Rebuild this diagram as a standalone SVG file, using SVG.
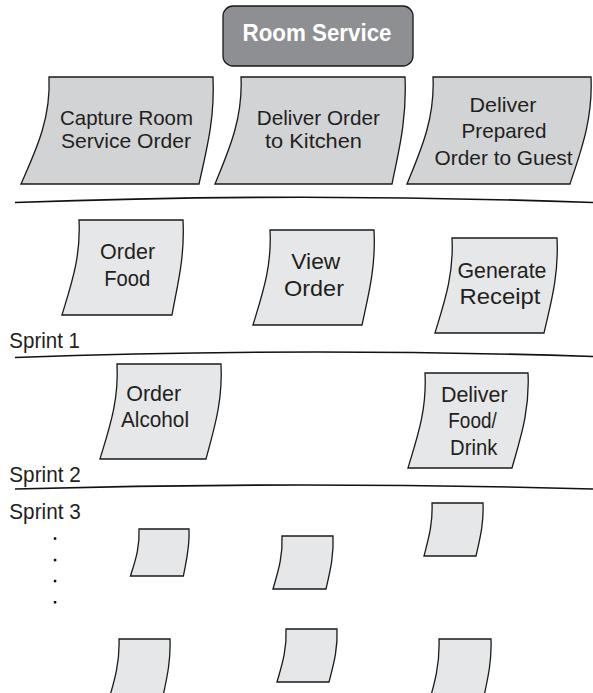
<svg xmlns="http://www.w3.org/2000/svg" width="593" height="693" viewBox="0 0 593 693">
<style>
.top{fill:#d2d3d5;stroke:#1a1a1a;stroke-width:1.3}
.card{fill:#e6e7e8;stroke:#1a1a1a;stroke-width:1.3}
.t{font-family:"Liberation Sans",Arial,sans-serif;font-size:22px;fill:#231f20;text-anchor:middle}
.tt{font-family:"Liberation Sans",Arial,sans-serif;font-size:21px;fill:#231f20;text-anchor:middle}
.s{font-family:"Liberation Sans",Arial,sans-serif;font-size:22px;fill:#231f20}
.sep{fill:none;stroke:#111;stroke-width:1.6}
</style>
<rect width="593" height="693" fill="#fff"/>
<g id="room-service">
<rect x="223" y="6" width="190" height="60" rx="10" fill="#8e8f92" stroke="#1a1a1a" stroke-width="1.3"/>
<text x="317" y="41" font-family="Liberation Sans,Arial,sans-serif" font-size="24" font-weight="bold" fill="#fff" text-anchor="middle" textLength="149" lengthAdjust="spacingAndGlyphs">Room Service</text>
</g>
<g id="capture">
<path class="top" d="M49,77 L213,77 C215,119.8 206,151.9 199,184 L21,184 C35,151.9 51,119.8 49,77 Z"/>
<text class="tt" x="126.5" y="125" textLength="133" lengthAdjust="spacingAndGlyphs">Capture Room</text>
<text class="tt" x="126" y="147.5" textLength="130" lengthAdjust="spacingAndGlyphs">Service Order</text>
</g>
<g id="deliver-kitchen">
<path class="top" d="M241,77 L405,77 C407,119.8 398.5,151.9 392,184 L215,184 C228,151.9 243,119.8 241,77 Z"/>
<text class="tt" x="318.3" y="125" textLength="123" lengthAdjust="spacingAndGlyphs">Deliver Order</text>
<text class="tt" x="313.5" y="147.5" textLength="97" lengthAdjust="spacingAndGlyphs">to Kitchen</text>
</g>
<g id="deliver-guest">
<path class="top" d="M433,77 L591,77 C593,119.8 580.5,151.9 570,184 L407,184 C420,151.9 435,119.8 433,77 Z"/>
<text class="tt" x="503" y="111.7" textLength="67" lengthAdjust="spacingAndGlyphs">Deliver</text>
<text class="tt" x="504" y="138" textLength="85" lengthAdjust="spacingAndGlyphs">Prepared</text>
<text class="tt" x="503.5" y="165" textLength="138" lengthAdjust="spacingAndGlyphs">Order to Guest</text>
</g>
<g id="separators">
<path class="sep" d="M15,202.5 Q300,192 593,202.5"/>
<path class="sep" d="M15,357.5 Q300,347 593,356.5"/>
<path class="sep" d="M15,489 Q300,481 593,489"/>
</g>
<g id="order-food">
<path class="card" d="M79,220 L183,220 C185,258 177,286.5 172,315 L62,315 C70.5,286.5 81,258 79,220 Z"/>
<text class="t" x="127.6" y="259" textLength="55" lengthAdjust="spacingAndGlyphs">Order</text>
<text class="t" x="127.3" y="285.5" textLength="46" lengthAdjust="spacingAndGlyphs">Food</text>
</g>
<g id="view-order">
<path class="card" d="M270,230 L374,230 C376,268 368,296.5 362,325 L253,325 C261.5,296.5 272,268 270,230 Z"/>
<text class="t" x="315.8" y="269" textLength="49" lengthAdjust="spacingAndGlyphs">View</text>
<text class="t" x="314" y="295.5" textLength="60" lengthAdjust="spacingAndGlyphs">Order</text>
</g>
<g id="generate-receipt">
<path class="card" d="M452,238 L557,238 C559,276 550.5,304.5 544,333 L435,333 C443.5,304.5 454,276 452,238 Z"/>
<text class="t" x="502" y="278" textLength="89" lengthAdjust="spacingAndGlyphs">Generate</text>
<text class="t" x="500" y="303.5" textLength="81" lengthAdjust="spacingAndGlyphs">Receipt</text>
</g>
<g id="sprint-labels">
<text class="s" x="9.3" y="348.3" textLength="70.7" lengthAdjust="spacingAndGlyphs">Sprint 1</text>
<text class="s" x="9.3" y="482.3" textLength="71.4" lengthAdjust="spacingAndGlyphs">Sprint 2</text>
<text class="s" x="9.3" y="519" textLength="71.4" lengthAdjust="spacingAndGlyphs">Sprint 3</text>
</g>
<g id="order-alcohol">
<path class="card" d="M117,364 L221,364 C223,402 213.5,430.5 206,459 L100,459 C108.5,430.5 119,402 117,364 Z"/>
<text class="t" x="153.7" y="401" textLength="55" lengthAdjust="spacingAndGlyphs">Order</text>
<text class="t" x="155" y="427" textLength="68" lengthAdjust="spacingAndGlyphs">Alcohol</text>
</g>
<g id="deliver-food">
<path class="card" d="M425,373 L528,373 C530,411 520,439.5 512,468 L408,468 C416.5,439.5 427,411 425,373 Z"/>
<text class="t" x="474.3" y="402.3" textLength="66.7" lengthAdjust="spacingAndGlyphs">Deliver</text>
<text class="t" x="472.5" y="428.3" textLength="48.4" lengthAdjust="spacingAndGlyphs">Food/</text>
<text class="t" x="473.7" y="455" textLength="47.3" lengthAdjust="spacingAndGlyphs">Drink</text>
</g>
<g id="dots" fill="#111">
<rect x="53.8" y="537.3" width="2.5" height="2.5"/>
<rect x="53.8" y="558.8" width="2.5" height="2.5"/>
<rect x="53.8" y="579.8" width="2.5" height="2.5"/>
<rect x="53.8" y="601" width="2.5" height="2.5"/>
</g>
<g id="card-a"><path class="card" d="M139,529 L189,529 C190,547.8 186,561.9 183.4,576 L130.5,576 C134.8,561.9 140,547.8 139,529 Z"/></g>
<g id="card-b"><path class="card" d="M282,536 L333,536 C334,557.2 329.5,573.1 326,589 L273,589 C277.5,573.1 283,557.2 282,536 Z"/></g>
<g id="card-c"><path class="card" d="M432,503 L483,503 C484,524.2 479.5,540.1 476,556 L424,556 C428,540.1 433,524.2 432,503 Z"/></g>
<g id="card-d"><path class="card" d="M119,639 L170,639 C171,665.5 165,685 161,706 L107,706 C113,685 120,665.5 119,639 Z"/></g>
<g id="card-e"><path class="card" d="M286,629 L337,629 C338,650.2 333,666.1 329,682 L277,682 C281.5,666.1 287,650.2 286,629 Z"/></g>
<g id="card-f"><path class="card" d="M439,639 L491,639 C492,665.5 486,685 482,706 L428,706 C434,685 440,665.5 439,639 Z"/></g>
</svg>
